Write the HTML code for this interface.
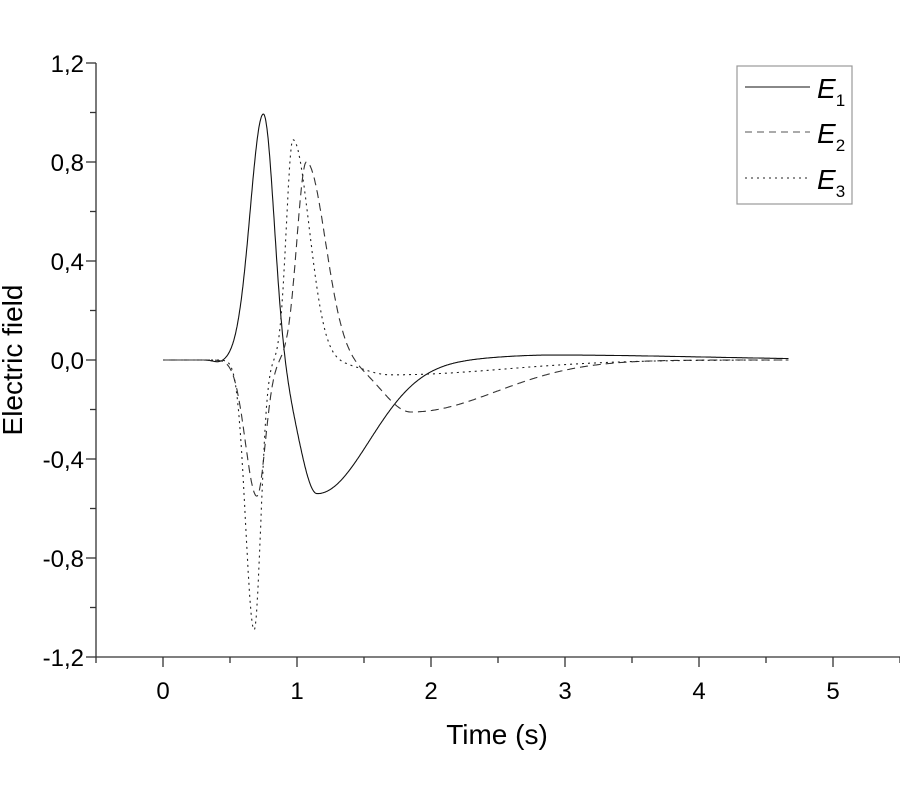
<!DOCTYPE html>
<html><head><meta charset="utf-8"><style>body{margin:0;background:#fff}svg{display:block}</style></head>
<body>
<svg id="s" width="900" height="800" xmlns="http://www.w3.org/2000/svg" font-family="Liberation Sans, sans-serif">
<g stroke="#333" stroke-width="1.3" fill="none">
<line x1="96" y1="63" x2="96" y2="657"/>
<line x1="96" y1="657" x2="900" y2="657"/>
</g>
<g id="ticks" stroke="#333" stroke-width="1.3"></g>
<g font-size="24" fill="#000" text-anchor="end">
<text x="84" y="72">1,2</text><text x="84" y="171">0,8</text><text x="84" y="270">0,4</text><text x="84" y="369">0,0</text><text x="84" y="468">-0,4</text><text x="84" y="567">-0,8</text><text x="84" y="666">-1,2</text>
</g>
<g font-size="24" fill="#000" text-anchor="middle">
<text x="163" y="699">0</text><text x="297" y="699">1</text><text x="431" y="699">2</text><text x="565" y="699">3</text><text x="699" y="699">4</text><text x="833" y="699">5</text>
<text x="497" y="744" font-size="28">Time (s)</text>
<text transform="translate(22,360) rotate(-90)" font-size="28">Electric field</text>
</g>
<g fill="none" stroke-width="1.1">
<path id="e1" stroke="#111"/>
<path id="e2" stroke="#333" stroke-dasharray="8,5"/>
<path id="e3" stroke="#222" stroke-dasharray="2,4"/>
</g>
<rect x="737" y="66" width="115" height="138" fill="none" stroke="#999" stroke-width="1.2"/>
<g stroke-width="1.1">
<line x1="745" y1="87" x2="810" y2="87" stroke="#111"/>
<line x1="745" y1="132" x2="810" y2="132" stroke="#555" stroke-dasharray="7,5"/>
<line x1="745" y1="178" x2="810" y2="178" stroke="#222" stroke-dasharray="2,4"/>
</g>
<g font-size="28" font-style="italic" fill="#000">
<text x="817" y="98">E<tspan font-size="17" font-style="normal" dy="8">1</tspan></text>
<text x="817" y="143">E<tspan font-size="17" font-style="normal" dy="8">2</tspan></text>
<text x="817" y="189">E<tspan font-size="17" font-style="normal" dy="8">3</tspan></text>
</g>
</svg>
<script>
function ag(t,c,a,sl,sr){var s=t<c?sl:sr;var d=(t-c)/s;return a*Math.exp(-d*d);}
function X(t){return 163+134*t;}function Y(v){return 360-247.5*v;}
function E1(t){return ag(t,0.75,1.0,0.14,0.11)+ag(t,1.15,-0.54,0.19,0.55)+ag(t,2.9,0.02,0.6,1.6)+ag(t,0.42,-0.01,0.06,0.08);}
function E2(t){return ag(t,0.7,-0.55,0.12,0.09)+ag(t,1.07,0.80,0.10,0.2)+ag(t,1.85,-0.21,0.3,0.9);}
function E3(t){return ag(t,0.68,-1.09,0.09,0.07)+ag(t,0.97,0.89,0.07,0.17)+ag(t,1.7,-0.06,0.3,1.2);}
function path(f){var d="";for(var t=0;t<=4.67;t+=0.004){d+=(d?"L":"M")+X(t).toFixed(1)+","+Y(f(t)).toFixed(1);}return d;}
document.getElementById("e1").setAttribute("d",path(E1));
document.getElementById("e2").setAttribute("d",path(E2));
document.getElementById("e3").setAttribute("d",path(E3));
var g=document.getElementById("ticks"),h="";
for(var i=0;i<=12;i++){var y=63+i*49.5;var L=i%2==0?10:6;h+='<line x1="'+(96-L)+'" y1="'+y+'" x2="96" y2="'+y+'"/>';}
for(var k=-1;k<=11;k++){var x=163+67*k;if(x<96)continue;var L=k%2==0?10:6;h+='<line x1="'+x+'" y1="657" x2="'+x+'" y2="'+(657+L)+'"/>';}
g.innerHTML=h;
</script>
</body></html>
